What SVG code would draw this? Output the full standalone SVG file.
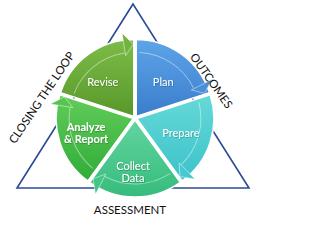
<svg xmlns="http://www.w3.org/2000/svg" xmlns:xlink="http://www.w3.org/1999/xlink" width="316" height="232" viewBox="0 0 316 232">
<style>
.seg{stroke:#ffffff;stroke-width:1.5;stroke-linejoin:round}
.lbl{font-family:Lato,"Liberation Sans",sans-serif;font-size:11px;fill:#ffffff;text-anchor:middle;filter:url(#sh)}
.side{font-family:Lato,"Liberation Sans",sans-serif;font-size:11.5px;fill:#111111;text-anchor:middle}
.band{fill:none;stroke:#ffffff;stroke-opacity:0.45;stroke-width:1}
.ah{stroke:#ffffff;stroke-opacity:0.55;stroke-width:0.8;stroke-linejoin:round}
</style>
<defs>
<filter id="sh" x="-20%" y="-20%" width="140%" height="160%"><feDropShadow dx="0.5" dy="0.6" stdDeviation="0.4" flood-color="#000" flood-opacity="0.35"/></filter>
<linearGradient id="gPlan" x1="0" y1="0" x2="0" y2="1"><stop offset="0" stop-color="#5ea4e8"/><stop offset="1" stop-color="#3a7dcc"/></linearGradient>
<linearGradient id="gPrep" x1="0" y1="0" x2="0" y2="1"><stop offset="0" stop-color="#66d8d8"/><stop offset="1" stop-color="#3bc3ca"/></linearGradient>
<linearGradient id="gColl" x1="0" y1="0" x2="0" y2="1"><stop offset="0" stop-color="#62d4a0"/><stop offset="1" stop-color="#36bc7c"/></linearGradient>
<linearGradient id="gAna" x1="0" y1="0" x2="0" y2="1"><stop offset="0" stop-color="#62cc5a"/><stop offset="1" stop-color="#30ac38"/></linearGradient>
<linearGradient id="gRev" x1="0" y1="0" x2="0" y2="1"><stop offset="0" stop-color="#7cbc48"/><stop offset="1" stop-color="#58982a"/></linearGradient>
<path id="ah" d="M190.2,91.5 L210.6,81.2 L203.4,95.0 Z"/>
<path id="arc" d="M138.35,54.09 A64,64 0 0 1 192.52,89.94"/>
</defs>
<rect width="316" height="232" fill="#ffffff"/>
<polygon points="133,4 17,188 249,188" fill="none" stroke="#2b4a94" stroke-width="1.6" stroke-linejoin="miter"/>
<g id="plan" transform="translate(1.2,-1.6)">
<path class="seg" fill="url(#gPlan)" d="M135,118 L135,41 A77,77 0 0 1 208.23,94.21 Z"/>
<use href="#arc" class="band"/>
<use href="#ah" class="ah" fill="#4a8fda"/>
<text class="lbl" x="162" y="88">Plan</text>
</g>
<g id="prepare" transform="translate(1.9,0.6)">
<path class="seg" fill="url(#gPrep)" d="M135,118 L208.23,94.21 A77,77 0 0 1 180.26,180.29 Z"/>
<use href="#arc" class="band" transform="rotate(72 135 118)"/>
<use href="#ah" class="ah" fill="#48c8cf" transform="rotate(72 135 118)"/>
<text class="lbl" x="179" y="136">Prepare</text>
</g>
<g id="collect" transform="translate(0,2)">
<path class="seg" fill="url(#gColl)" d="M135,118 L180.26,180.29 A77,77 0 0 1 89.74,180.29 Z"/>
<use href="#arc" class="band" transform="rotate(144 135 118)"/>
<use href="#ah" class="ah" fill="#44c487" transform="rotate(144 135 118)"/>
<text class="lbl" x="133" y="168">Collect</text>
<text class="lbl" x="133" y="180">Data</text>
</g>
<g id="analyze" transform="translate(-1.9,0.6)">
<path class="seg" fill="url(#gAna)" d="M135,118 L89.74,180.29 A77,77 0 0 1 61.77,94.21 Z"/>
<use href="#arc" class="band" transform="rotate(216 135 118)"/>
<use href="#ah" class="ah" fill="#55c451" transform="rotate(216 135 118)"/>
<text class="lbl" x="88" y="130" font-weight="bold">Analyze</text>
<text class="lbl" x="88" y="142" font-weight="bold">&amp; Report</text>
</g>
<g id="revise" transform="translate(-1.2,-1.6)">
<path class="seg" fill="url(#gRev)" d="M135,118 L61.77,94.21 A77,77 0 0 1 135,41 Z"/>
<use href="#arc" class="band" transform="rotate(288 135 118)"/>
<use href="#ah" class="ah" fill="#74b23e" transform="rotate(288 135 118)"/>
<text class="lbl" x="104" y="88">Revise</text>
</g>
<g id="labels">
<text class="side" transform="translate(45,100) rotate(-56)">CLOSING THE LOOP</text>
<text class="side" transform="translate(208,83) rotate(55)">OUTCOMES</text>
<text class="side" x="130" y="214">ASSESSMENT</text>
</g>
</svg>
